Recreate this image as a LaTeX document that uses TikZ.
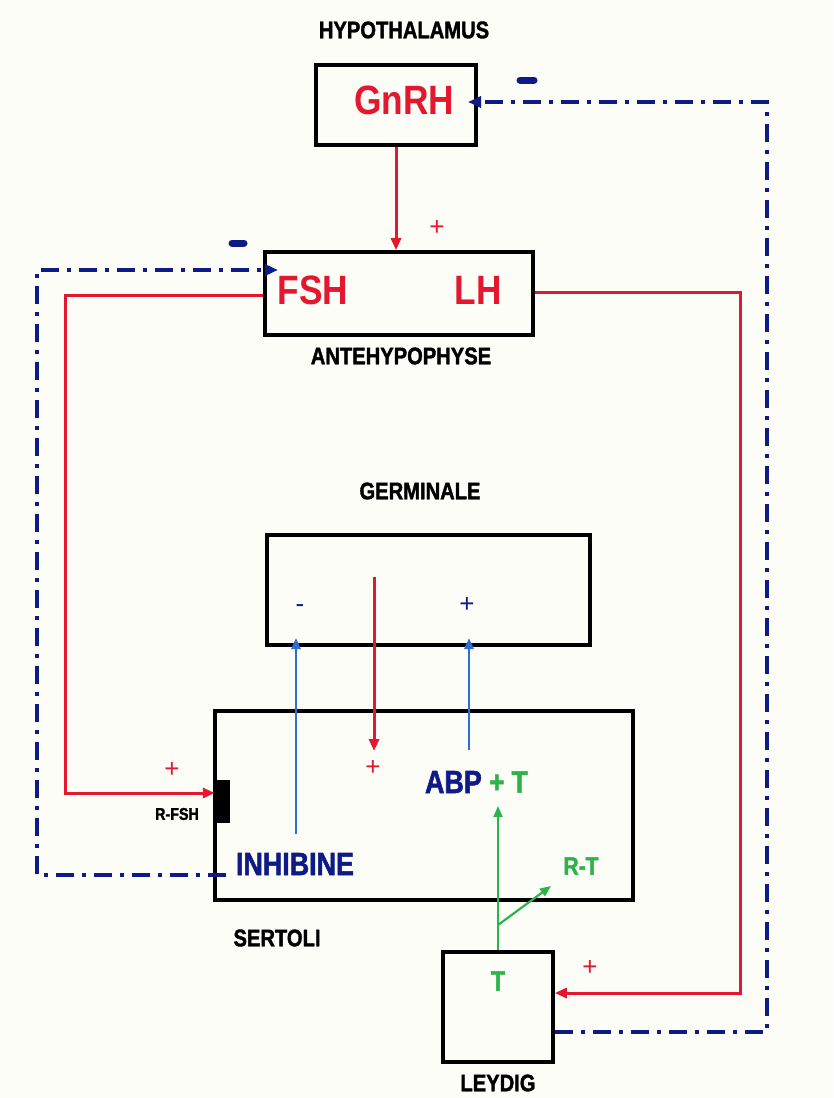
\documentclass[tikz,border=0pt]{standalone}
\usepackage{fontspec}
\setmainfont{Liberation Sans}
\newfontfamily\cond[FakeStretch=0.86]{Liberation Sans}
\newfontfamily\heavy[FakeStretch=0.84,FakeBold=1.6]{Liberation Sans}
\usetikzlibrary{arrows.meta}
\definecolor{hred}{HTML}{E3172F}
\definecolor{navy}{HTML}{0E1A86}
\definecolor{lblue}{HTML}{2F6FD0}
\definecolor{hgreen}{HTML}{2EB24B}
\definecolor{paper}{HTML}{FDFDF7}
\begin{document}
\begin{tikzpicture}[x=1pt,y=-1pt,
  box/.style 2 args={draw=black,line width=3.6pt,minimum width=#1,minimum height=#2,inner sep=0pt},
  hormone/.style={font=\cond\bfseries\fontsize{41}{41}\selectfont,text=hred,inner sep=0pt},
  organ/.style={font=\heavy\bfseries\fontsize{24}{24}\selectfont,text=black,inner sep=0pt},
  bigblue/.style={font=\heavy\bfseries\fontsize{32}{32}\selectfont,text=navy,inner sep=0pt},
  greentxt/.style={font=\heavy\bfseries\fontsize{#1}{#1}\selectfont,text=hgreen,inner sep=0pt},
  sign/.style={font=\fontsize{26}{26}\selectfont,text=#1,inner sep=0pt},
  redline/.style={draw=hred,line width=3pt},
  redarrow/.style={redline,-{Triangle[length=12pt,width=10pt]}},
  bluearrow/.style={draw=lblue,line width=2.6pt,-{Triangle[length=11pt,width=9pt]}},
  greenarrow/.style={draw=hgreen,line width=2.2pt,-{Triangle[length=11pt,width=9pt]}},
  fb/.style={draw=navy,line width=4.4pt,dash pattern=on 18pt off 8pt on 4pt off 8pt},
  fbarrow/.style={fb,-{Triangle[length=13pt,width=11pt]}},
  blob/.style={draw=navy,line width=7pt,line cap=round}]

\fill[paper] (0,0) rectangle (833,1098);
\useasboundingbox (0,0) rectangle (833,1098);

% boxes
\node[box={160pt}{80pt}] (gnrh) at (396,105) {};
\node[box={268pt}{83pt}] (ant) at (399,293.5) {};
\node[box={323pt}{110pt}] (germ) at (428.5,590) {};
\node[box={418pt}{189pt}] (sert) at (424,805.5) {};
\node[box={110pt}{110pt}] (leyd) at (498,1007) {};
\node[draw=black,fill=black,minimum width=14pt,minimum height=42pt,inner sep=0pt] (rfsh) at (222,801) {};

% organ labels
\node[organ] (lhyp) at (404,30) {HYPOTHALAMUS};
\node[organ] (lant) at (401,356) {ANTEHYPOPHYSE};
\node[organ] (lgerm) at (420,491) {GERMINALE};
\node[organ] (lsert) at (277,938) {SERTOLI};
\node[organ] (lleyd) at (498,1083) {LEYDIG};
\node[organ,font=\heavy\bfseries\fontsize{17}{17}\selectfont] (lrfsh) at (177,814) {R-FSH};

% hormones
\node[hormone] (tgnrh) at (404,100) {GnRH};
\node[hormone] (tfsh) at (313,290) {FSH};
\node[hormone] (tlh) at (478,290) {LH};
\node[bigblue] (tinh) at (295,864) {INHIBINE};
\node[bigblue,anchor=east] (tabp) at (482,782) {ABP};
\node[greentxt=31,anchor=west] (tpt) at (489,782) {+ T};
\node[greentxt=25] (trt) at (581,866) {R-T};
\node[greentxt=28] (tt) at (498,981) {T};

% signs
\node[sign=hred] (p1) at (437,228) {+};
\node[sign=hred] (p2) at (172,770) {+};
\node[sign=hred] (p3) at (373,768) {+};
\node[sign=hred] (p4) at (590,968) {+};
\node[sign=navy] (m1) at (300,609) {-};
\node[sign=navy] (p5) at (467,605) {+};
\draw[blob] (520,80) -- (534,80);
\draw[blob] (232,243) -- (244,243);

% coordinates
\coordinate (lhA) at (740,292);
\coordinate (lhB) at (740,993);
\coordinate (fsA) at (65,295);
\coordinate (fsB) at (65,793);
\coordinate (fb1) at (767,1032);
\coordinate (fb2) at (767,102);
\coordinate (gtip) at (468,102);
\coordinate (fb3) at (226,875);
\coordinate (fb4) at (37,875);
\coordinate (fb5) at (37,270);
\coordinate (atip) at (278,270);
\coordinate (inhS) at (296,834);
\coordinate (inhT) at (296,638);
\coordinate (abpS) at (469,750);
\coordinate (abpT) at (469,638);
\coordinate (redS) at (374,577);
\coordinate (redT) at (374,751);
\coordinate (grT) at (498,806);
\coordinate (grB) at (498,925);
\coordinate (rtT) at (551,886);

% red connectors
\draw[redarrow] (gnrh.south) -- (gnrh.south |- ant.north);
\draw[redarrow] (ant.east |- lhA) -- (lhA) -- (lhB) -- (lhB -| leyd.east);
\draw[redarrow] (ant.west |- fsA) -- (fsA) -- (fsB) -- (fsB -| rfsh.west);
\draw[redarrow] (redS) -- (redT);

% blue connectors
\draw[bluearrow] (inhS) -- (inhT);
\draw[bluearrow] (abpS) -- (abpT);

% green connectors
\draw[greenarrow] (leyd.north) -- (grT);
\draw[greenarrow] (grB) -- (rtT);

% feedback loops
\draw[fbarrow] (leyd.east |- fb1) -- (fb1) -- (fb2) -- (gtip);
\draw[fbarrow] (fb3) -- (fb4) -- (fb5) -- (atip);
\end{tikzpicture}
\end{document}
